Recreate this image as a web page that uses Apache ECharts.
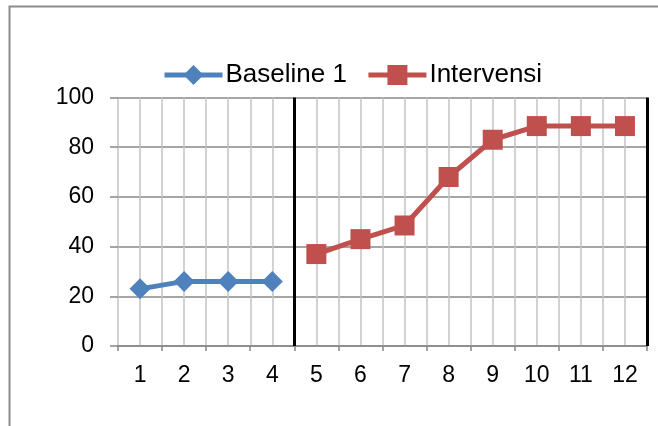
<!DOCTYPE html>
<html>
<head>
<meta charset="utf-8">
<script src="https://cdn.jsdelivr.net/npm/echarts@6/dist/echarts.min.js"></script>
<style>
html,body{margin:0;padding:0;background:#fff;}
#chart{width:658px;height:426px;}
</style>
</head>
<body>
<div id="chart"></div>
<script>
// Data
var categories = ['1','2','3','4','5','6','7','8','9','10','11','12'];
var baselineName = 'Baseline 1';
var interventionName = 'Intervensi';
var baselineValues = [23, 26, 26, 26, null, null, null, null, null, null, null, null];
var interventionValues = [null, null, null, null, 37, 43, 48.5, 68, 83, 88.5, 88.5, 88.5];
var yTicks = [0, 20, 40, 60, 80, 100];
var phaseBoundaries = [4.5, 12.5]; // between sessions 4|5 and after session 12

var chart = echarts.init(document.getElementById('chart'), null, {renderer: 'canvas'});
var font = '"Liberation Sans", Arial, sans-serif';
var majorGrid = '#878787';
var minorGrid = '#c3c3c3';

chart.setOption({
  animation: false,
  backgroundColor: '#ffffff',
  graphic: [{
    type: 'rect',
    shape: {x: 9.5, y: 6.5, width: 700, height: 500},
    style: {fill: 'none', stroke: '#8c8c8c', lineWidth: 2},
    silent: true
  }],
  legend: {
    left: 157,
    top: 57,
    itemWidth: 58,
    itemHeight: 25,
    itemGap: 19,
    textStyle: {fontFamily: font, fontSize: 26, color: '#000', padding: [0, 0, 0, -2]},
    lineStyle: {width: 5},
    data: [baselineName, interventionName]
  },
  grid: {left: 118, right: 11, top: 97.5, bottom: 80, containLabel: false},
  xAxis: [{
    type: 'category',
    data: categories,
    boundaryGap: true,
    axisLine: {show: true, lineStyle: {color: majorGrid, width: 1.5}},
    axisTick: {show: true, length: 5, lineStyle: {color: majorGrid, width: 1.5}},
    axisLabel: {fontFamily: font, fontSize: 23, color: '#000', margin: 18},
    splitLine: {show: false}
  }, {
    type: 'value',
    min: 0.5,
    max: 12.5,
    interval: 0.5,
    position: 'bottom',
    axisLine: {show: false},
    axisTick: {show: false},
    axisLabel: {show: false},
    splitLine: {show: true, lineStyle: {color: minorGrid, width: 1.5}}
  }],
  yAxis: {
    type: 'value',
    min: yTicks[0],
    max: yTicks[yTicks.length - 1],
    interval: yTicks[1] - yTicks[0],
    axisLine: {show: false},
    axisTick: {show: true, length: 8, lineStyle: {color: majorGrid, width: 1.5}},
    axisLabel: {fontFamily: font, fontSize: 23, color: '#000', margin: 24},
    splitLine: {show: true, lineStyle: {color: majorGrid, width: 1.5}}
  },
  series: [{
    name: baselineName,
    type: 'line',
    xAxisIndex: 0,
    data: baselineValues,
    symbol: 'diamond',
    symbolSize: 21,
    lineStyle: {color: '#4f81bd', width: 5},
    itemStyle: {color: '#4f81bd'},
    z: 5
  }, {
    name: interventionName,
    type: 'line',
    xAxisIndex: 0,
    data: interventionValues,
    symbol: 'rect',
    symbolSize: 20,
    lineStyle: {color: '#c0504d', width: 5},
    itemStyle: {color: '#c0504d'},
    z: 5
  }, {
    name: 'phase',
    type: 'line',
    xAxisIndex: 1,
    data: [],
    silent: true,
    markLine: {
      silent: true,
      symbol: ['none', 'none'],
      label: {show: false},
      lineStyle: {color: '#000', width: 3, type: 'solid'},
      data: phaseBoundaries.map(function (v) { return {xAxis: v}; })
    },
    z: 4
  }]
});
</script>
</body>
</html>
